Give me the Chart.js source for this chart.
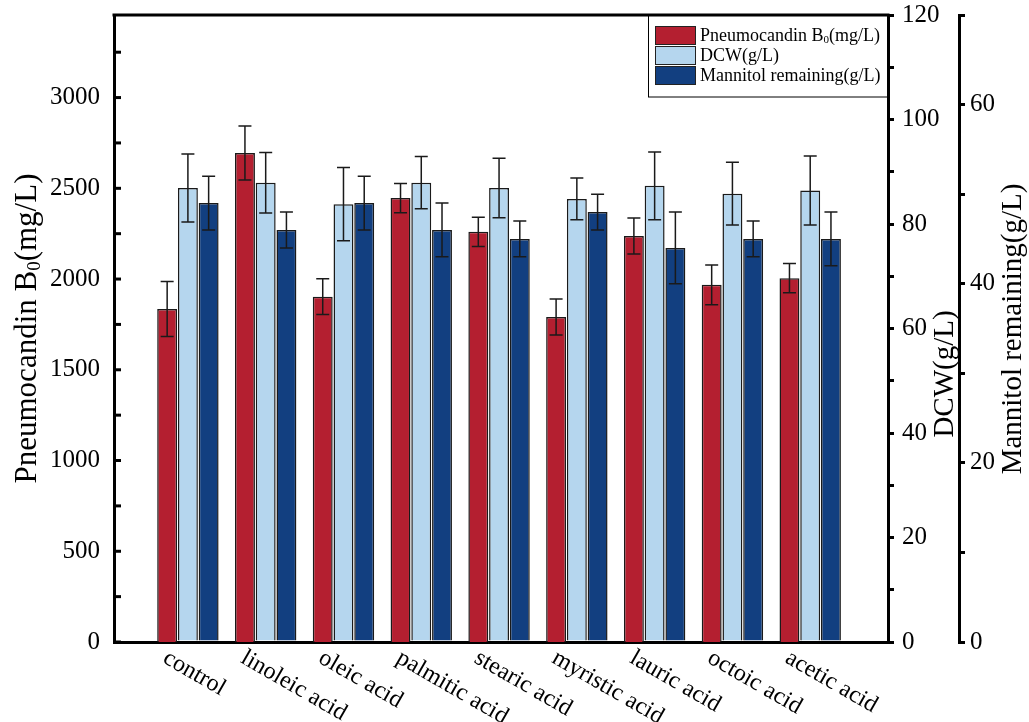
<!DOCTYPE html>
<html>
<head>
<meta charset="utf-8">
<script src="https://cdn.jsdelivr.net/npm/chart.js@4.4.1/dist/chart.umd.min.js"></script>
<style>
  html, body { margin: 0; padding: 0; background: #ffffff; }
  #wrap { width: 1029px; height: 722px; }
</style>
</head>
<body>
<div id="wrap"><canvas id="chart" width="1029" height="722"></canvas></div>
<script>
// Culture conditions (fatty acid supplements)
const categories = ['control', 'linoleic acid', 'oleic acid', 'palmitic acid', 'stearic acid',
                    'myristic acid', 'lauric acid', 'octoic acid', 'acetic acid'];

// Pneumocandin B0 titre (mg/L) and standard deviation
const pneumocandin    = [1835, 2695, 1903, 2446, 2260, 1791, 2237, 1968, 2005];
const pneumocandinErr = [152, 149, 99, 81, 81, 99, 99, 110, 81];

// Dry cell weight (g/L) and standard deviation
const dcw    = [86.9, 87.9, 83.8, 87.9, 86.9, 84.8, 87.3, 85.8, 86.4];
const dcwErr = [6.5, 5.8, 7.0, 5.0, 5.7, 4.0, 6.5, 6.0, 6.6];

// Residual mannitol (g/L) and standard deviation
const mannitol    = [49.0, 46.0, 49.0, 46.0, 45.0, 48.0, 44.0, 45.0, 45.0];
const mannitolErr = [3.0, 2.0, 3.0, 3.0, 2.0, 2.0, 4.0, 2.0, 3.0];

// Labelled ticks on each value axis
const pneumoTicks   = [0, 500, 1000, 1500, 2000, 2500, 3000];
const dcwTicks      = [0, 20, 40, 60, 80, 100, 120];
const mannitolTicks = [0, 20, 40, 60];

const SERIF = "'Liberation Serif', 'Times New Roman', serif";
const COLORS = { pneumo: '#B41F30', dcw: '#B5D6EE', mannitol: '#123F80' };

function range(start, stop, step) {
  const out = [];
  for (let v = start; v <= stop + 1e-9; v += step) out.push(Math.round(v * 1000) / 1000);
  return out;
}

// text with a subscript part, e.g. B0
function drawRichText(ctx, parts, x, y, size) {
  let cx = x;
  for (const p of parts) {
    if (p.sub) {
      ctx.font = `${Math.round(size * 0.62)}px ${SERIF}`;
      ctx.fillText(p.t, cx, y + size * 0.22);
    } else {
      ctx.font = `${size}px ${SERIF}`;
      ctx.fillText(p.t, cx, y);
    }
    cx += ctx.measureText(p.t).width;
  }
  return cx - x;
}
function measureRichText(ctx, parts, size) {
  let w = 0;
  for (const p of parts) {
    ctx.font = p.sub ? `${Math.round(size * 0.62)}px ${SERIF}` : `${size}px ${SERIF}`;
    w += ctx.measureText(p.t).width;
  }
  return w;
}
const pneumoTitle = [{ t: 'Pneumocandin B' }, { t: '0', sub: true }, { t: '(mg/L)' }];

const asPoints = (vals) => vals.map((v, i) => ({ x: i, y: v }));

const errorBars = {
  id: 'errorBars',
  afterDatasetsDraw(chart) {
    const ctx = chart.ctx;
    const errs = [pneumocandinErr, dcwErr, mannitolErr];
    ctx.save();
    ctx.strokeStyle = '#1a1a1a';
    ctx.lineWidth = 1.5;
    chart.data.datasets.forEach((ds, di) => {
      const meta = chart.getDatasetMeta(di);
      const ys = chart.scales[ds.yAxisID];
      meta.data.forEach((bar, i) => {
        const v = ds.data[i].y, e = errs[di][i];
        const yt = ys.getPixelForValue(v + e), yb = ys.getPixelForValue(v - e);
        const x = bar.x, hw = 6.5;
        ctx.beginPath();
        ctx.moveTo(x, yt); ctx.lineTo(x, yb);
        ctx.moveTo(x - hw, yt); ctx.lineTo(x + hw, yt);
        ctx.moveTo(x - hw, yb); ctx.lineTo(x + hw, yb);
        ctx.stroke();
      });
    });
    ctx.restore();
  }
};

const decorations = {
  id: 'decorations',
  afterDraw(chart) {
    const ctx = chart.ctx;
    const area = chart.chartArea;
    const yL = chart.scales.y;
    ctx.save();
    // top frame line
    ctx.strokeStyle = '#000';
    ctx.lineWidth = 3;
    ctx.beginPath();
    ctx.moveTo(area.left - 1.5, area.top);
    ctx.lineTo(area.right + 1.5, area.top);
    ctx.stroke();
    // inward tick marks on the left axis
    yL.ticks.forEach((t) => {
      const y = yL.getPixelForValue(t.value);
      ctx.beginPath();
      ctx.moveTo(area.left, y);
      ctx.lineTo(area.left + 7, y);
      ctx.stroke();
    });

    // category labels, slanted downwards
    const xs = chart.scales.x;
    ctx.fillStyle = '#000';
    ctx.font = `24px ${SERIF}`;
    ctx.textAlign = 'left';
    ctx.textBaseline = 'top';
    categories.forEach((c, i) => {
      const px = xs.getPixelForValue(i);
      ctx.save();
      ctx.translate(px - 17, 646);
      ctx.rotate(Math.PI / 6);
      ctx.fillText(c, 0, 0);
      ctx.restore();
    });

    // axis titles
    ctx.textBaseline = 'middle';
    ctx.save();
    ctx.translate(28, (area.top + area.bottom) / 2);
    ctx.rotate(-Math.PI / 2);
    const tw = measureRichText(ctx, pneumoTitle, 31);
    drawRichText(ctx, pneumoTitle, -tw / 2, 0, 31);
    ctx.restore();

    ctx.font = `29px ${SERIF}`;
    ctx.textAlign = 'center';
    ctx.save();
    ctx.translate(945, 374);
    ctx.rotate(-Math.PI / 2);
    ctx.fillText('DCW(g/L)', 0, 0);
    ctx.restore();
    ctx.save();
    ctx.translate(1013, 329);
    ctx.rotate(-Math.PI / 2);
    ctx.fillText('Mannitol remaining(g/L)', 0, 0);
    ctx.restore();

    // legend
    const lx = 648, ly = area.top, lw = area.right - lx, lh = 82;
    ctx.lineWidth = 1;
    ctx.strokeStyle = '#000';
    ctx.strokeRect(lx + 0.5, ly, lw, lh);
    const rows = [
      { color: COLORS.pneumo, parts: pneumoTitle },
      { color: COLORS.dcw, parts: [{ t: 'DCW(g/L)' }] },
      { color: COLORS.mannitol, parts: [{ t: 'Mannitol remaining(g/L)' }] }
    ];
    ctx.textAlign = 'left';
    rows.forEach((r, i) => {
      const top = area.top + 11 + i * 20;
      ctx.fillStyle = r.color;
      ctx.fillRect(655, top, 41, 19);
      ctx.strokeStyle = '#222';
      ctx.strokeRect(655.5, top + 0.5, 40, 18);
      ctx.fillStyle = '#000';
      drawRichText(ctx, r.parts, 700, top + 10, 18);
    });
    ctx.restore();
  }
};

const blackLine = { display: true, color: '#000', width: 3 };
const noPad = (s) => { s.paddingTop = 0; s.paddingBottom = 0; };

new Chart(document.getElementById('chart'), {
  type: 'bar',
  data: {
    datasets: [
      { label: 'Pneumocandin B0(mg/L)', data: asPoints(pneumocandin), yAxisID: 'y',
        backgroundColor: COLORS.pneumo, borderColor: '#1a1a1a', borderWidth: 1.5 },
      { label: 'DCW(g/L)', data: asPoints(dcw), yAxisID: 'y1',
        backgroundColor: COLORS.dcw, borderColor: '#1a1a1a', borderWidth: 1.5 },
      { label: 'Mannitol remaining(g/L)', data: asPoints(mannitol), yAxisID: 'y2',
        backgroundColor: COLORS.mannitol, borderColor: '#1a1a1a', borderWidth: 1.5 }
    ]
  },
  options: {
    responsive: false,
    animation: false,
    layout: { padding: { top: 15, left: 0, right: 0, bottom: 0 } },
    categoryPercentage: 0.8,
    barPercentage: 0.96,
    plugins: { legend: { display: false }, tooltip: { enabled: false } },
    scales: {
      x: {
        type: 'linear', offset: false, min: -0.95, max: 9,
        afterBuildTicks: (s) => { s.ticks = categories.map((c, i) => ({ value: i })); },
        afterFit: (s) => { s.height = 80; s.paddingLeft = 0; s.paddingRight = 0; },
        grid: { display: false },
        border: blackLine,
        ticks: { display: false }
      },
      y: {
        type: 'linear', position: 'left', min: 0, max: 3455,
        afterBuildTicks: (s) => { s.ticks = range(0, 3250, 250).map((v) => ({ value: v })); },
        afterFit: (s) => { s.width = 114; noPad(s); },
        grid: { display: false, drawOnChartArea: false, drawTicks: false },
        border: blackLine,
        ticks: {
          autoSkip: false, padding: 14, color: '#000',
          font: { family: SERIF, size: 25 },
          callback: (v) => (pneumoTicks.includes(v) ? String(v) : '')
        }
      },
      y1: {
        type: 'linear', position: 'right', min: 0, max: 120, weight: 1,
        afterBuildTicks: (s) => { s.ticks = range(0, 120, 10).map((v) => ({ value: v })); },
        afterFit: (s) => { s.width = 71; noPad(s); },
        grid: { display: true, drawOnChartArea: false, drawTicks: true, tickLength: 6, lineWidth: 3, color: '#000' },
        border: blackLine,
        ticks: {
          autoSkip: false, padding: 8, color: '#000',
          font: { family: SERIF, size: 25 },
          callback: (v) => (dcwTicks.includes(v) ? String(v) : '')
        }
      },
      y2: {
        type: 'linear', position: 'right', min: 0, max: 70, weight: 2,
        afterBuildTicks: (s) => { s.ticks = range(0, 70, 10).map((v) => ({ value: v })); },
        afterFit: (s) => { s.width = 70; noPad(s); },
        grid: { display: true, drawOnChartArea: false, drawTicks: true, tickLength: 6, lineWidth: 3, color: '#000' },
        border: blackLine,
        ticks: {
          autoSkip: false, padding: 5, color: '#000',
          font: { family: SERIF, size: 25 },
          callback: (v) => (mannitolTicks.includes(v) ? String(v) : '')
        }
      }
    }
  },
  plugins: [errorBars, decorations]
});
</script>
</body>
</html>
